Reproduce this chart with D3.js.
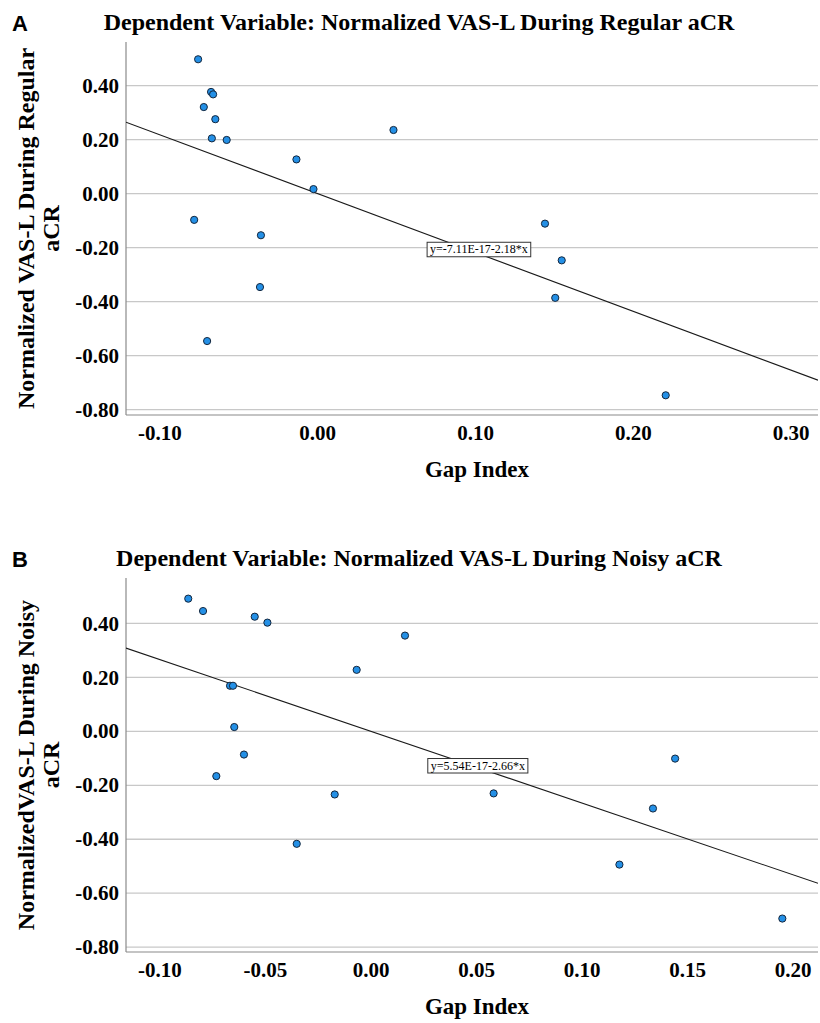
<!DOCTYPE html>
<html>
<head>
<meta charset="utf-8">
<script src="https://cdn.jsdelivr.net/npm/d3@7"></script>
<style>
  html, body { margin: 0; padding: 0; background: #fff; }
  svg { display: block; }
</style>
</head>
<body>
<div id="chart"></div>
<script>
// Panel A: regular aCR
const gapA = [-0.0758, -0.0676, -0.0663, -0.0722, -0.0649, -0.0671, -0.0577, -0.0135, -0.0027, 0.048,
  -0.0783, -0.036, -0.0366, -0.0701, 0.144, 0.1546, 0.1505, 0.2205];
const vasA = [0.498, 0.377, 0.368, 0.321, 0.276, 0.205, 0.199, 0.127, 0.017, 0.236,
  -0.097, -0.154, -0.346, -0.546, -0.111, -0.247, -0.386, -0.747];
const fitA = { intercept: -7.11e-17, slope: -2.18, label: "y=-7.11E-17-2.18*x" };

// Panel B: noisy aCR
const gapB = [-0.0866, -0.0796, -0.0551, -0.0491, 0.0161, -0.0068, -0.0668, -0.0654, -0.0648,
  -0.0602, -0.0733, -0.0172, -0.0352, 0.1441, 0.0581, 0.1336, 0.1177, 0.1949];
const vasB = [0.492, 0.446, 0.425, 0.403, 0.355, 0.228, 0.169, 0.169, 0.016,
  -0.086, -0.166, -0.234, -0.417, -0.101, -0.230, -0.286, -0.494, -0.694];
const fitB = { intercept: 5.54e-17, slope: -2.66, label: "y=5.54E-17-2.66*x" };

const yTicks = [-0.8, -0.6, -0.4, -0.2, 0, 0.2, 0.4];
const xTicksA = [-0.1, 0, 0.1, 0.2, 0.3];
const xTicksB = [-0.1, -0.05, 0, 0.05, 0.1, 0.15, 0.2];

const width = 820;
const height = 1023;
const serif = "'Liberation Serif', 'Times New Roman', serif";
// SPSS style labels use a plain hyphen for negatives
const fmt = d => d3.format(".2f")(d).replace("\u2212", "-");

const svg = d3.select("#chart")
  .append("svg")
  .attr("width", width)
  .attr("height", height)
  .attr("viewBox", [0, 0, width, height]);

function drawPanel(p) {
  const x = d3.scaleLinear().domain(p.xDomain).range([126, 818]);
  const y = d3.scaleLinear().domain(p.yDomain).range([p.bottom, p.top]);
  const g = svg.append("g");

  // panel letter
  g.append("text")
    .attr("x", 12)
    .attr("y", p.top - 11)
    .attr("font-family", "'Liberation Sans', Arial, sans-serif")
    .attr("font-weight", "bold")
    .attr("font-size", 22)
    .text(p.letter);

  // title
  g.append("text")
    .attr("x", 419)
    .attr("y", p.top - 12)
    .attr("text-anchor", "middle")
    .attr("font-family", serif)
    .attr("font-weight", "bold")
    .attr("font-size", 24)
    .text(p.title);

  // grid lines
  g.append("g")
    .selectAll("line")
    .data(p.yTicks)
    .join("line")
      .attr("x1", x.range()[0])
      .attr("x2", x.range()[1])
      .attr("y1", d => y(d))
      .attr("y2", d => y(d))
      .attr("stroke", "#c8c8c8")
      .attr("stroke-width", 1.3);

  // axes lines
  g.append("line")
    .attr("x1", x.range()[0]).attr("x2", x.range()[0])
    .attr("y1", p.top).attr("y2", p.bottom)
    .attr("stroke", "#8a8a8a").attr("stroke-width", 1.2);
  g.append("line")
    .attr("x1", x.range()[0]).attr("x2", x.range()[1])
    .attr("y1", p.bottom).attr("y2", p.bottom)
    .attr("stroke", "#8a8a8a").attr("stroke-width", 1.2);

  // y tick labels
  g.append("g")
    .selectAll("text")
    .data(p.yTicks)
    .join("text")
      .attr("x", 119)
      .attr("y", d => y(d))
      .attr("dy", "0.34em")
      .attr("text-anchor", "end")
      .attr("font-family", serif)
      .attr("font-weight", "bold")
      .attr("font-size", 21)
      .text(fmt);

  // x tick labels
  g.append("g")
    .selectAll("text")
    .data(p.xTicks)
    .join("text")
      .attr("x", d => x(d))
      .attr("y", p.bottom + 25)
      .attr("text-anchor", "middle")
      .attr("font-family", serif)
      .attr("font-weight", "bold")
      .attr("font-size", 21)
      .text(fmt);

  // axis titles
  g.append("text")
    .attr("x", (x.range()[0] + x.range()[1]) / 2 + 5)
    .attr("y", p.bottom + 62)
    .attr("text-anchor", "middle")
    .attr("font-family", serif)
    .attr("font-weight", "bold")
    .attr("font-size", 23)
    .text("Gap Index");

  const yt = g.append("text")
    .attr("transform", `translate(34,${(p.top + p.bottom) / 2}) rotate(-90)`)
    .attr("text-anchor", "middle")
    .attr("font-family", serif)
    .attr("font-weight", "bold")
    .attr("font-size", 24);
  p.yTitle.forEach((line, i) => {
    yt.append("tspan").attr("x", 0).attr("dy", i === 0 ? 0 : 24.5).text(line);
  });

  // fit line, clipped to plot area
  const clipId = "clip" + p.letter;
  g.append("clipPath").attr("id", clipId)
    .append("rect")
      .attr("x", x.range()[0]).attr("y", p.top)
      .attr("width", x.range()[1] - x.range()[0])
      .attr("height", p.bottom - p.top);
  const fx = x.domain();
  g.append("line")
    .attr("clip-path", `url(#${clipId})`)
    .attr("x1", x(fx[0])).attr("y1", y(p.fit.intercept + p.fit.slope * fx[0]))
    .attr("x2", x(fx[1])).attr("y2", y(p.fit.intercept + p.fit.slope * fx[1]))
    .attr("stroke", "#1a1a1a")
    .attr("stroke-width", 1.1);

  // points
  g.append("g")
    .selectAll("circle")
    .data(d3.zip(p.gap, p.vas))
    .join("circle")
      .attr("cx", d => x(d[0]))
      .attr("cy", d => y(d[1]))
      .attr("r", 3.6)
      .attr("fill", "#2490e6")
      .attr("stroke", "#13263d")
      .attr("stroke-width", 1);

  // equation label
  const lab = g.append("g")
    .attr("transform", `translate(${x(p.labelAt[0])},${y(p.labelAt[1])})`);
  const t = lab.append("text")
    .attr("x", 3)
    .attr("y", 11)
    .attr("font-family", serif)
    .attr("font-size", 12)
    .text(p.fit.label);
  const w = t.node().getComputedTextLength();
  lab.insert("rect", "text")
    .attr("width", w + 6)
    .attr("height", 14.5)
    .attr("fill", "#fff")
    .attr("stroke", "#333")
    .attr("stroke-width", 1);
}

drawPanel({
  letter: "A",
  title: "Dependent Variable: Normalized VAS-L During Regular aCR",
  yTitle: ["Normalized VAS-L During Regular", "aCR"],
  top: 42, bottom: 415,
  xDomain: [-0.1215, 0.317],
  yDomain: [-0.82, 0.562],
  xTicks: xTicksA, yTicks: yTicks,
  gap: gapA, vas: vasA, fit: fitA,
  labelAt: [0.0693, -0.18]
});

drawPanel({
  letter: "B",
  title: "Dependent Variable: Normalized VAS-L During Noisy aCR",
  yTitle: ["NormalizedVAS-L During Noisy", "aCR"],
  top: 578, bottom: 952,
  xDomain: [-0.1161, 0.2118],
  yDomain: [-0.818, 0.5685],
  xTicks: xTicksB, yTicks: yTicks,
  gap: gapB, vas: vasB, fit: fitB,
  labelAt: [0.0269, -0.1007]
});
</script>
</body>
</html>
